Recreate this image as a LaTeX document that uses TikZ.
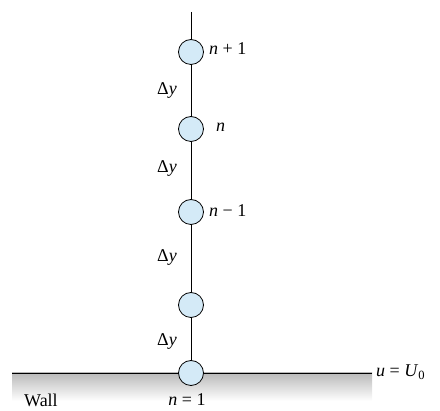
\documentclass[tikz,border=0pt]{standalone}
\usepackage{fontspec}
\setmainfont{Liberation Serif}
\begin{document}
\begin{tikzpicture}[x=1pt,y=-1pt,
  gridpt/.style={circle,draw=black,line width=0.8pt,fill=nodeblue,minimum size=25pt,inner sep=0pt},
  lbl/.style={font=\fontsize{18}{20}\selectfont,inner sep=0pt},
  wire/.style={line width=0.8pt}]
\definecolor{nodeblue}{HTML}{D4EAF7}
\useasboundingbox (0,0) rectangle (440,411);
% wall
\shade[top color=black!27,bottom color=white] (12,373) rectangle (372,401);
\coordinate (wl) at (12,373);
\coordinate (wr) at (372,373);
\draw[wire] (wl) -- (wr);
\coordinate (top) at (191,12);
\node[gridpt] (c1) at (191,52) {};
\node[gridpt] (c2) at (191,129) {};
\node[gridpt] (c3) at (191,212) {};
\node[gridpt] (c4) at (191,305) {};
\draw[wire] (top) -- (c1) (c1) -- (c2) (c2) -- (c3) (c3) -- (c4);
\draw[wire] (c4) -- (191,373);
\node[gridpt] (c5) at (191,373) {};
% labels
\node[lbl,anchor=west] (l1) at (209,49) {\textit{n} + 1};
\node[lbl,anchor=west] (l2) at (216,127) {\textit{n}};
\node[lbl,anchor=west] (l3) at (209,211) {\textit{n} − 1};
\node[lbl] (d1) at (167,91) {Δ\textit{y}};
\node[lbl] (d2) at (167,169) {Δ\textit{y}};
\node[lbl] (d3) at (167,258) {Δ\textit{y}};
\node[lbl] (d4) at (167,342) {Δ\textit{y}};
\node[lbl,anchor=west] (u0) at (376,372) {\textit{u} = \textit{U}\textsubscript{0}};
\node[lbl,anchor=west] (wall) at (24,400) {Wall};
\node[lbl] (n1) at (187,400) {\textit{n} = 1};
\end{tikzpicture}
\end{document}
